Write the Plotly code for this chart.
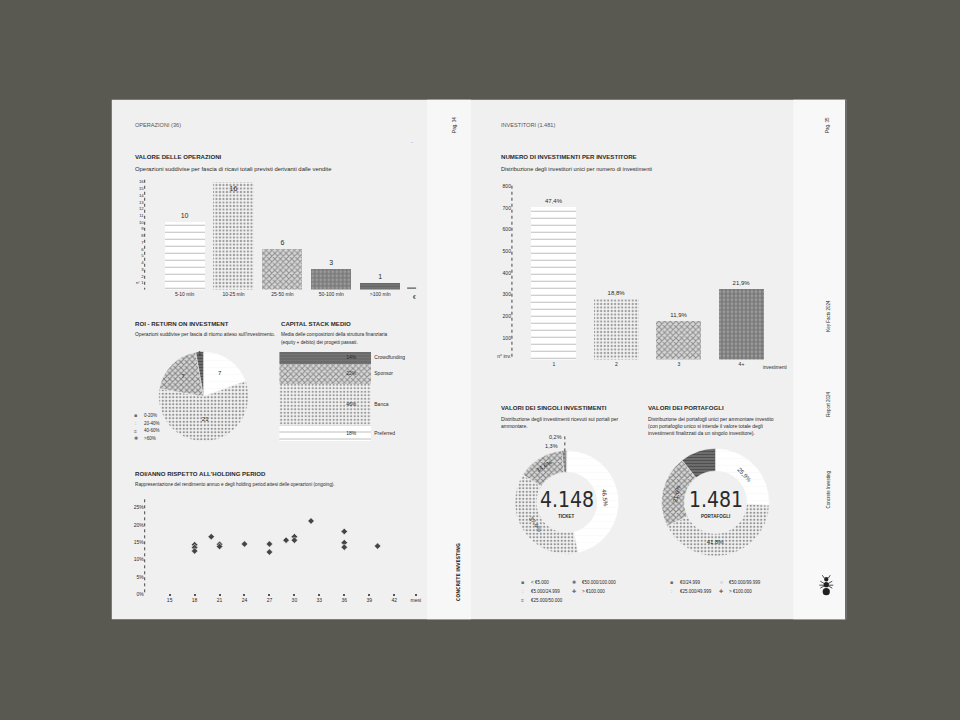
import plotly.graph_objects as go

# ---------------- DATA ----------------
op_cats = ["5-10 mln", "10-25 mln", "25-50 mln", "50-100 mln", ">100 mln"]
op_vals = [10, 16, 6, 3, 1]

roi_labels = ["0-20%", "20-40%", "40-60%", ">60%"]
roi_vals = [7, 21, 7, 1]

cs_labels = ["Preferred", "Banca", "Sponsor", "Crowdfunding"]
cs_vals = [18, 46, 22, 14]

hp_months = [18, 18, 18, 20, 21, 21, 24, 27, 27, 29, 30, 30, 32, 36, 36, 36, 40]
hp_roi = [14.3, 13.5, 12.5, 16.6, 14.4, 13.8, 14.5, 14.5, 12.2, 15.6, 16.6, 15.6, 21.1, 18.1, 14.9, 13.6, 13.9]
hp_xticks = [15, 18, 21, 24, 27, 30, 33, 36, 39, 42]
hp_yticks = [0, 5, 10, 15, 20, 25]

inv_cats = ["1", "2", "3", "4+"]
inv_vals = [702, 279, 176, 324]
inv_pct = [47.4, 18.8, 11.9, 21.9]
inv_yticks = [100, 200, 300, 400, 500, 600, 700, 800]

tk_labels = ["< €5.000", "€5.000/24.999", "€25.000/50.000", "€50.000/100.000", "> €100.000"]
tk_vals = [46.5, 37.4, 14.6, 1.3, 0.2]
tk_total = "4.148"

pf_labels = ["€0/24.999", "€25.000/49.999", "€50.000/99.999", "> €100.000"]
pf_vals = [25.9, 41.8, 21.6, 10.7]
pf_total = "1.481"

# ---------------- HELPERS ----------------
W, H = 960, 720
def X(px): return px / W
def Y(py): return 1 - py / H
def pct(v): return f"{v:.1f}%".replace(".", ",")

FONT = "Liberation Sans, Arial, sans-serif"
NARROW = "Liberation Sans Narrow, DejaVu Sans Condensed, Roboto Condensed, Arial Narrow, Liberation Sans, sans-serif"
INK = "#2a2a2a"
PAGE = "#f0f0f0"
HS = 6.1    # heading size

# pattern styles: white, dots, waves, bricks, dark
STY = {
    "white": dict(color="#ffffff", shape="-", fg="#efefef", size=7, sol=0.1),
    "dots":  dict(color="#f2f2f2", shape=".", fg="#333333", size=3.5, sol=0.34),
    "wave":  dict(color="#d6d6d6", shape="x", fg="#2e2e2e", size=4, sol=0.45),
    "brick": dict(color="#9c9c9c", shape="+", fg="#1e1e1e", size=4, sol=0.5),
    "dark":  dict(color="#808080", shape="-", fg="#1e1e1e", size=3, sol=0.6),
}
def pat(keys):
    return dict(
        shape=[STY[k]["shape"] for k in keys],
        fgcolor=[STY[k]["fg"] for k in keys],
        size=[STY[k]["size"] for k in keys],
        solidity=[STY[k]["sol"] for k in keys],
        fillmode="overlay",
    )
def marker_for(keys):
    return dict(color=[STY[k]["color"] for k in keys], pattern=pat(keys), line=dict(width=0))
def pie_marker(keys):
    return dict(colors=[STY[k]["color"] for k in keys], pattern=pat(keys),
                line=dict(color=PAGE, width=0.6))

fig = go.Figure()
ann = []
shapes = []

def txt(x, y, s, size=5, bold=False, angle=0, anchor="left", color=INK, family=FONT, yanchor="middle"):
    ann.append(dict(x=X(x), y=Y(y), xref="paper", yref="paper", text=(f"<b>{s}</b>" if bold else s),
                    showarrow=False, xanchor=anchor, yanchor=yanchor, textangle=angle,
                    font=dict(size=size, color=color, family=family)))

# ---------------- PAGES ----------------
shapes += [
    dict(type="rect", xref="paper", yref="paper", x0=X(112), x1=X(435), y0=Y(620), y1=Y(100),
         fillcolor=PAGE, line=dict(width=0), layer="below"),
    dict(type="rect", xref="paper", yref="paper", x0=X(435), x1=X(848), y0=Y(620), y1=Y(100),
         fillcolor=PAGE, line=dict(width=0), layer="below"),
    dict(type="rect", xref="paper", yref="paper", x0=X(428), x1=X(472), y0=Y(620), y1=Y(100),
         fillcolor="#f7f7f7", line=dict(width=0), layer="below"),
    dict(type="rect", xref="paper", yref="paper", x0=X(795), x1=X(847), y0=Y(620), y1=Y(100),
         fillcolor="#f8f8f8", line=dict(width=0), layer="below"),
    dict(type="line", xref="paper", yref="paper", x0=X(847.5), x1=X(847.5), y0=Y(620), y1=Y(100),
         line=dict(color="#444444", width=1)),
]

def vdot(x, y0, y1):
    shapes.append(dict(type="line", xref="paper", yref="paper", x0=X(x), x1=X(x), y0=Y(y0), y1=Y(y1),
                       line=dict(color="#444444", width=1, dash="dot")))
vdot(145, 180, 290)
vdot(145, 500, 596)
vdot(513, 186, 360)

# ---------------- CHART 1: valore delle operazioni ----------------
op_styles = ["white", "dots", "wave", "brick", "dark"]
fig.add_trace(go.Bar(
    x=list(range(len(op_vals))), y=op_vals, width=0.82, xaxis="x", yaxis="y",
    text=[str(v) for v in op_vals],
    textposition=["outside", "inside", "outside", "outside", "outside"],
    insidetextanchor="end", textangle=0,
    textfont=dict(size=7, color=INK, family=FONT),
    marker=marker_for(op_styles), cliponaxis=False, showlegend=False, hoverinfo="skip",
))
op_ticks = list(range(1, 17))
fig.update_layout(
    xaxis=dict(domain=[X(145), X(420)], range=[-0.816, 4.796], tickvals=list(range(len(op_cats))),
               ticktext=op_cats, tickfont=dict(size=5, color=INK, family=FONT), showgrid=False,
               zeroline=False, showline=False, ticks="", anchor="y", fixedrange=True),
    yaxis=dict(domain=[Y(290), Y(180)], range=[0, 16.3], tickvals=op_ticks,
               ticktext=["n° 1"] + [str(t) for t in op_ticks[1:]],
               tickfont=dict(size=4.3, color=INK, family=FONT), showgrid=False, zeroline=False,
               showline=False, ticks="", anchor="x", fixedrange=True),
)
shapes.append(dict(type="line", xref="paper", yref="paper", x0=X(408), x1=X(417), y0=Y(288.5), y1=Y(288.5),
                   line=dict(color="#333333", width=1)))
txt(415, 297, "€", size=5, anchor="center")
txt(133, 157, "VALORE DELLE OPERAZIONI", size=HS, bold=True)
txt(133, 169, "Operazioni suddivise per fascia di ricavi totali previsti derivanti dalle vendite", size=5.9)
txt(133, 125, "OPERAZIONI (36)", size=5.6, color="#555555")
txt(413, 142, "·", size=6, anchor="center")

# ---------------- CHART 2: ROI pie ----------------
roi_styles = ["white", "dots", "wave", "dark"]
fig.add_trace(go.Pie(
    labels=roi_labels, values=roi_vals, sort=False, direction="clockwise", rotation=0,
    domain=dict(x=[X(159), X(249)], y=[Y(442), Y(352)]),
    text=[str(v) for v in roi_vals[:-1]] + [""], textinfo="text",
    textposition="inside", insidetextorientation="horizontal",
    textfont=dict(size=6, color=INK, family=FONT),
    marker=pie_marker(roi_styles), showlegend=False, hoverinfo="skip",
))
txt(200, 353, str(roi_vals[-1]), size=6, anchor="center")
txt(133, 324, "ROI - RETURN ON INVESTMENT", size=HS, bold=True)
txt(133, 335, "Operazioni suddivise per fascia di ritorno atteso sull'investimento.", size=4.85)
roi_sym = ["■", ":", "≡", "✱"]
for i, (s, l) in enumerate(zip(roi_sym, roi_labels)):
    txt(136, 416 + 7.7 * i, s, size=5, anchor="center", color="#666666")
    txt(142, 416 + 7.7 * i, l, size=4.5)

# ---------------- CHART 3: capital stack ----------------
cs_styles = ["white", "dots", "wave", "dark"]
base = 0
mids = []
for lab, v, st in zip(cs_labels, cs_vals, cs_styles):
    fig.add_trace(go.Bar(
        x=[0], y=[v], width=1, xaxis="x3", yaxis="y3", showlegend=False, hoverinfo="skip",
        marker=marker_for([st]),
    ))
    mids.append(base + v / 2)
    base += v
fig.add_trace(go.Scatter(
    x=[0.283] * len(cs_vals), y=mids, mode="text", text=[f"{v}%" for v in cs_vals],
    textfont=dict(size=5, color=INK, family=FONT), xaxis="x3", yaxis="y3",
    showlegend=False, hoverinfo="skip", cliponaxis=False,
))
fig.add_trace(go.Scatter(
    x=[0.533] * len(cs_vals), y=mids, mode="text", text=cs_labels, textposition="middle right",
    textfont=dict(size=5, color=INK, family=FONT), xaxis="x3", yaxis="y3",
    showlegend=False, hoverinfo="skip", cliponaxis=False,
))
fig.update_layout(
    xaxis3=dict(domain=[X(280), X(430)], range=[-0.5, 1.13], visible=False, anchor="y3", fixedrange=True),
    yaxis3=dict(domain=[Y(442), Y(352)], range=[0, 100], visible=False, anchor="x3", fixedrange=True),
)
txt(280, 324, "CAPITAL STACK MEDIO", size=HS, bold=True)
txt(280, 335, "Media delle composizioni della struttura finanziaria", size=4.75)
txt(280, 343, "(equity + debito) dei progetti passati.", size=4.75)

# ---------------- CHART 4: ROI vs holding period ----------------
fig.add_trace(go.Scatter(
    x=hp_months, y=hp_roi, mode="markers", xaxis="x4", yaxis="y4",
    marker=dict(symbol="diamond", size=5, color="#444444", line=dict(width=0.6, color="#f0f0f0")),
    showlegend=False, hoverinfo="skip",
))
fig.update_layout(
    xaxis4=dict(domain=[X(145), X(420)], range=[12, 45], tickvals=hp_xticks + [44.6],
                ticktext=[str(t) for t in hp_xticks] + ["mesi"], ticks="inside", ticklen=2,
                tickwidth=1.5, tickcolor="#555555", tickfont=dict(size=5, color=INK, family=FONT),
                showgrid=False, zeroline=False, showline=False, anchor="y4", fixedrange=True),
    yaxis4=dict(domain=[Y(597), Y(500)], range=[-0.43, 27.3], tickvals=hp_yticks,
                ticktext=[f"{t}%" for t in hp_yticks], ticks="",
                tickfont=dict(size=5, color=INK, family=FONT), showgrid=False, zeroline=False,
                showline=False, anchor="x4", fixedrange=True),
)
txt(133, 474, "ROI/ANNO RISPETTO ALL'HOLDING PERIOD", size=HS, bold=True)
txt(133, 485, "Rappresentazione del rendimento annuo e degli holding period attesi delle operazioni (ongoing).", size=4.7)

# ---------------- CHART 5: investimenti per investitore ----------------
inv_styles = ["white", "dots", "wave", "brick"]
fig.add_trace(go.Bar(
    x=list(range(len(inv_vals))), y=inv_vals, width=0.72, xaxis="x5", yaxis="y5",
    text=[pct(p) for p in inv_pct], textposition="outside",
    textfont=dict(size=6, color=INK, family=FONT),
    marker=marker_for(inv_styles), cliponaxis=False, showlegend=False, hoverinfo="skip",
))
fig.update_layout(
    xaxis5=dict(domain=[X(513), X(790)], range=[-0.67, 3.75], tickvals=list(range(len(inv_cats))),
                ticktext=inv_cats, tickfont=dict(size=5, color=INK, family=FONT), showgrid=False,
                zeroline=False, showline=False, ticks="", anchor="y5", fixedrange=True),
    yaxis5=dict(domain=[Y(360), Y(180)], range=[0, 829.5], tickvals=[15] + inv_yticks,
                ticktext=["n° inv."] + [str(t) for t in inv_yticks],
                tickfont=dict(size=5, color=INK, family=FONT), showgrid=False, zeroline=False,
                showline=False, ticks="", anchor="x5", fixedrange=True),
)
txt(763, 368, "investimenti", size=4.5)
txt(500, 157, "NUMERO DI INVESTIMENTI PER INVESTITORE", size=HS, bold=True)
txt(500, 169, "Distribuzione degli investitori unici per numero di investimenti", size=5.6)
txt(500, 125, "INVESTITORI (1.481)", size=5.6, color="#555555")

# ---------------- CHART 6: donut singoli investimenti ----------------
tk_styles = ["white", "dots", "wave", "brick", "dark"]
fig.add_trace(go.Pie(
    labels=tk_labels, values=tk_vals, sort=False, direction="clockwise", rotation=0, hole=0.58,
    domain=dict(x=[X(516), X(620)], y=[Y(555), Y(451)]),
    text=[pct(v) for v in tk_vals[:3]] + ["", ""], textinfo="text",
    textposition="inside", insidetextorientation="tangential",
    textfont=dict(size=6, color=INK, family=FONT),
    marker=pie_marker(tk_styles), showlegend=False, hoverinfo="skip",
))
txt(557, 438, pct(tk_vals[4]), size=5.5, anchor="center")
txt(553, 447, pct(tk_vals[3]), size=5.5, anchor="center")
shapes.append(dict(type="line", xref="paper", yref="paper", x0=X(566), x1=X(566), y0=Y(452), y1=Y(436),
                   line=dict(color="#444444", width=1, dash="dot")))
txt(568, 501, tk_total, size=21, anchor="center", family=NARROW)
txt(568, 517, "TICKET", size=4.5, anchor="center", bold=True)
txt(500, 408, "VALORI DEI SINGOLI INVESTIMENTI", size=HS, bold=True)
txt(500, 420, "Distribuzione degli investimenti ricevuti sui portali per", size=5)
txt(500, 427, "ammontare.", size=5)
tk_sym = ["■", ":", "≡", "✱", "✚"]
tk_pos = [(524, 583), (524, 592), (524, 601), (575, 583), (575, 592)]
for s, l, (px, py) in zip(tk_sym, tk_labels, tk_pos):
    txt(px, py, s, size=5, anchor="center", color="#666666")
    txt(px + 6, py, l, size=4.5)

# ---------------- CHART 7: donut portafogli ----------------
pf_styles = ["white", "dots", "wave", "dark"]
fig.add_trace(go.Pie(
    labels=pf_labels, values=pf_vals, sort=False, direction="clockwise", rotation=0, hole=0.58,
    domain=dict(x=[X(663), X(771)], y=[Y(557), Y(449)]),
    text=[pct(v) for v in pf_vals[:3]] + [""], textinfo="text", textposition="inside",
    insidetextorientation="tangential",
    textfont=dict(size=6, color=INK, family=FONT),
    marker=pie_marker(pf_styles), showlegend=False, hoverinfo="skip",
))
txt(717, 501, pf_total, size=21, anchor="center", family=NARROW)
txt(717, 517, "PORTAFOGLI", size=4.5, anchor="center", bold=True)
txt(647, 408, "VALORI DEI PORTAFOGLI", size=HS, bold=True)
txt(647, 420, "Distribuzione dei portafogli unici per ammontare investito", size=5)
txt(647, 427, "(con portafoglio unico si intende il valore totale degli", size=5)
txt(647, 434, "investimenti finalizzati da un singolo investitore).", size=5)
pf_sym = ["■", ":", "○", "✚"]
pf_pos = [(673, 583), (673, 592), (723, 583), (723, 592)]
for s, l, (px, py) in zip(pf_sym, pf_labels, pf_pos):
    txt(px, py, s, size=5, anchor="center", color="#666666")
    txt(px + 6, py, l, size=4.5)

# ---------------- VERTICAL TEXTS ----------------
txt(456, 125, "Pag. 34", size=4.5, angle=-90, anchor="center")
txt(830, 125, "Pag. 35", size=4.5, angle=-90, anchor="center")
txt(830, 316, "Key Facts 2024", size=4.5, angle=-90, anchor="center")
txt(830, 405, "Report 2024", size=4.5, angle=-90, anchor="center")
txt(830, 490, "Concrete Investing", size=4.5, angle=-90, anchor="center")
txt(459, 573, "<b>CONCRETE INVESTING</b>", size=5.2, angle=-90, anchor="center", family=NARROW)

# ant logo
for cy, r in [(580, 2.2), (585.5, 2.6), (592.5, 3.6)]:
    shapes.append(dict(type="circle", xref="paper", yref="paper", x0=X(828 - r), x1=X(828 + r),
                       y0=Y(cy + r), y1=Y(cy - r), fillcolor="#222222", line=dict(width=0)))
for (x0, y0, x1, y1) in [(822, 582, 834, 589), (822, 589, 834, 582), (821, 586, 835, 586),
                         (824, 576, 826, 579), (832, 576, 830, 579)]:
    shapes.append(dict(type="line", xref="paper", yref="paper", x0=X(x0), x1=X(x1), y0=Y(y0), y1=Y(y1),
                       line=dict(color="#222222", width=0.8)))

fig.update_layout(
    width=W, height=H, margin=dict(l=0, r=0, t=0, b=0),
    paper_bgcolor="#595951", plot_bgcolor="rgba(0,0,0,0)",
    barmode="stack", annotations=ann, shapes=shapes, showlegend=False,
    font=dict(family=FONT, color=INK),
)
fig.write_html(
    "out.html",
    config={"responsive": False, "displayModeBar": False},
    post_script="document.body.style.margin='0';document.body.style.overflow='hidden';",
)
